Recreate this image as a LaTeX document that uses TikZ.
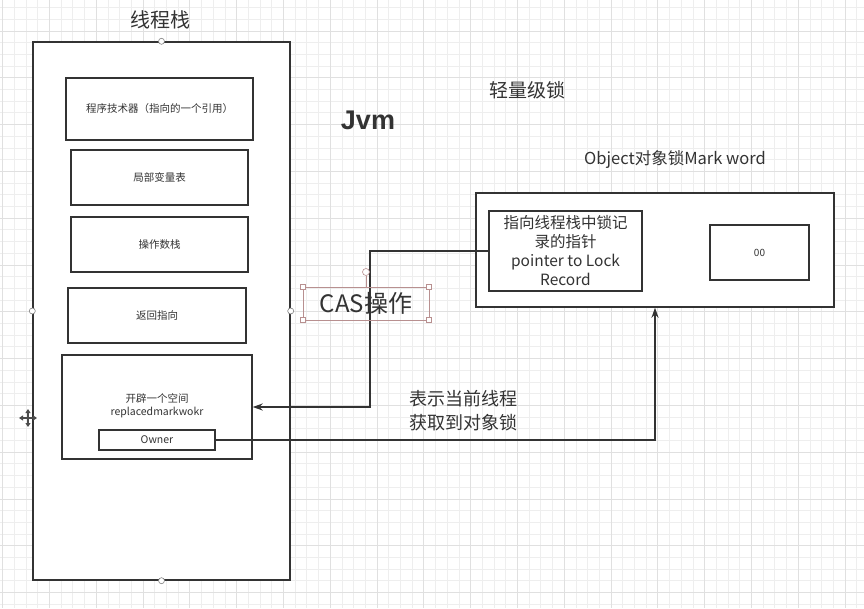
\documentclass[tikz,border=0pt]{standalone}
\usepackage{fontspec}
\setmainfont{Noto Sans CJK SC}
\newfontfamily\jvmfont{Liberation Sans}
\usetikzlibrary{arrows.meta,positioning,calc}
\definecolor{ink}{HTML}{333333}
\definecolor{gridminor}{HTML}{EEEEEE}
\definecolor{gridmajor}{HTML}{E0E0E0}
\definecolor{selcol}{HTML}{B89090}
\newcommand{\fs}[2]{\fontsize{#1}{#2}\selectfont}
\tikzset{
  box/.style={draw=ink, line width=1.4pt, fill=white, align=center, text=ink, inner sep=0pt},
  slot/.style={box, font=\fs{10.5}{13}},
  label/.style={text=ink, align=center, inner sep=0pt},
  handle/.style={draw=gray, fill=white, line width=0.6pt, circle, inner sep=0pt, minimum size=6pt},
  selhandle/.style={draw=selcol, fill=white, line width=0.6pt, inner sep=0pt, minimum size=5pt},
  arrow/.style={-{Stealth[length=10pt,width=7pt]}, draw=ink, line width=1.4pt},
}
\begin{document}
\begin{tikzpicture}[x=1pt, y=-1pt]
  \useasboundingbox (0,0) rectangle (864,608);
  % background grid
  \fill[white] (0,0) rectangle (864,608);
  \foreach \x in {2.5,14.2,...,864} \draw[gridminor, line width=0.5pt] (\x,0) -- (\x,608);
  \foreach \y in {7.4,19.1,...,608} \draw[gridminor, line width=0.5pt] (0,\y) -- (864,\y);
  \foreach \x in {2.5,49.3,...,864} \draw[gridmajor, line width=0.6pt] (\x,0) -- (\x,608);
  \foreach \y in {30.8,77.6,...,608} \draw[gridmajor, line width=0.6pt] (0,\y) -- (864,\y);

  % thread stack
  \node[label, font=\fs{20}{22}] (stacktitle) at (160,20) {线程栈};
  \node[box, minimum width=257pt, minimum height=538pt] (stack) at (161.5,311) {};
  \node[slot, minimum width=187pt, minimum height=62pt] (pc) at (159.5,109) {程序技术器（指向的一个引用）};
  \node[slot, minimum width=177pt, minimum height=55pt] (locals) at (159.5,177.5) {局部变量表};
  \node[slot, minimum width=177pt, minimum height=55pt] (opstack) at (159.5,244.5) {操作数栈};
  \node[slot, minimum width=178pt, minimum height=55pt] (ret) at (157,315.5) {返回指向};
  \node[slot, minimum width=190pt, minimum height=104pt] (space) at (157,407) {};
  \node[label, font=\fs{10.5}{13}] (spacetext) at (157,406) {开辟一个空间\\replacedmarkwokr};
  \node[slot, line width=1.2pt, minimum width=116pt, minimum height=20pt] (owner) at (157,440) {Owner};

  % titles
  \node[label, font=\jvmfont\bfseries\fs{27}{30}] (jvm) at (368,120) {Jvm};
  \node[label, font=\fs{19}{22}] (lightlock) at (527,90) {轻量级锁};
  \node[label, font=\fs{16.5}{19}] (marktitle) at (675,160) {Object对象锁Mark word};

  % mark word
  \node[box, minimum width=358pt, minimum height=114pt] (markword) at (655,250) {};
  \node[box, font=\fs{15.5}{19}, minimum width=153pt, minimum height=80pt] (pointer) at (565.5,251)
    {指向线程栈中锁记\\录的指针\\pointer to Lock\\Record};
  \node[box, font=\fs{10}{12}, minimum width=99pt, minimum height=55pt] (state) at (759.5,252.5) {00};

  % connectors
  \coordinate (casbend) at (370,407);
  \draw[arrow] (pointer.west) -| (casbend) -- (space.east);
  \draw[arrow] (owner.east) -| (markword.south);

  \node[label, font=\fs{18}{24}, align=left] (ownernote) at (463.5,411) {表示当前线程\\获取到对象锁};

  % CAS label with selection frame
  \node[label, draw=selcol, line width=0.5pt, font=\fs{24}{26}, minimum width=126pt, minimum height=33pt] (cas) at (366,303.5) {CAS操作};
  \node[handle, minimum size=7pt, draw=selcol] (casrot) at (366,272) {};
  \draw[selcol, line width=0.5pt] (casrot) -- (cas.north);
  \foreach \c in {north west, north east, south west, south east}
    \node[selhandle] at (cas.\c) {};

  % selection handles on the stack
  \foreach \c in {north, west, east, south}
    \node[handle] at (stack.\c) {};

  % move cursor
  \coordinate (cursor) at (28,418);
  \foreach \d in {(0,-9),(0,9),(-9,0),(9,0)}
    \draw[-{Triangle[length=4pt,width=5pt]}, line width=1.2pt, draw=black!70] (cursor) -- ++\d;
\end{tikzpicture}
\end{document}
